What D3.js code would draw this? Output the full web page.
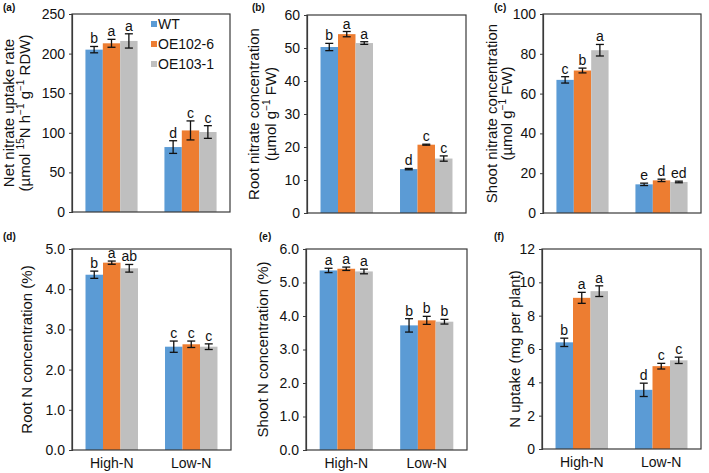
<!DOCTYPE html>
<html><head><meta charset="utf-8">
<script src="https://cdn.jsdelivr.net/npm/d3@7/dist/d3.min.js"></script>
<style>body{margin:0;background:#fff}svg{display:block}text{font-family:Arial,"Liberation Sans",sans-serif}</style>
</head><body><svg id="c" width="709" height="473"></svg>
<script>
// ---- data ----
const groups = ["High-N", "Low-N"];
const series = ["WT", "OE102-6", "OE103-1"];
const colors = ["#5B9BD5", "#ED7D31", "#BFBFBF"];

const aValues = [[205, 213, 216], [82, 103, 101]];
const aErrors = [[4, 5, 9], [8, 12, 8]];
const aLetters = [["b", "a", "a"], ["d", "c", "c"]];
const aTicks = [0, 50, 100, 150, 200, 250];

const bValues = [[50.3, 54.2, 51.5], [13.3, 20.7, 16.5]];
const bErrors = [[1.1, 0.8, 0.4], [0.2, 0.15, 0.8]];
const bLetters = [["b", "a", "a"], ["d", "c", "c"]];
const bTicks = [0, 10, 20, 30, 40, 50, 60];

const cValues = [[66.9, 71.6, 81.8], [14.4, 16.4, 15.6]];
const cErrors = [[1.6, 1.2, 2.9], [0.6, 0.6, 0.4]];
const cLetters = [["c", "b", "a"], ["e", "d", "ed"]];
const cTicks = [0, 20, 40, 60, 80, 100];

const dValues = [[4.36, 4.66, 4.52], [2.57, 2.63, 2.57]];
const dErrors = [[0.09, 0.04, 0.095], [0.14, 0.08, 0.07]];
const dLetters = [["b", "a", "ab"], ["c", "c", "c"]];
const dTicks = [0, 1, 2, 3, 4, 5];

const eValues = [[5.36, 5.41, 5.33], [3.72, 3.87, 3.83]];
const eErrors = [[0.065, 0.05, 0.07], [0.2, 0.12, 0.07]];
const eLetters = [["a", "a", "a"], ["b", "b", "b"]];
const eTicks = [0, 1, 2, 3, 4, 5, 6];

const fValues = [[6.4, 9.07, 9.47], [3.55, 4.97, 5.32]];
const fErrors = [[0.25, 0.33, 0.32], [0.4, 0.17, 0.19]];
const fLetters = [["b", "a", "a"], ["d", "c", "c"]];
const fTicks = [0, 2, 4, 6, 8, 10, 12];

// ---- drawing ----
const svg = d3.select("#c");
const FRAME = "#3a3a3a";

function panel(cfg) {
  const {label, box, values, errors, letters, ticks, fmt, title, xLabels, legend} = cfg;
  const g = svg.append("g");
  const y = d3.scaleLinear().domain([ticks[0], ticks[ticks.length - 1]]).range([box.b, box.t]);
  const x0 = d3.scaleBand().domain(groups).range([box.l, box.r]).paddingInner(0.34).paddingOuter(0.17);
  const x1 = d3.scaleBand().domain(series).range([0, x0.bandwidth()]);

  // bars
  groups.forEach((grp, gi) => {
    series.forEach((s, si) => {
      const v = values[gi][si], e = errors[gi][si];
      const bx = x0(grp) + x1(s);
      g.append("rect").attr("x", bx).attr("y", y(v)).attr("width", x1.bandwidth()).attr("height", y(0) - y(v)).attr("fill", colors[si]);
      const cx = bx + x1.bandwidth() / 2;
      const ey0 = y(v - e), ey1 = y(v + e);
      g.append("line").attr("x1", cx).attr("x2", cx).attr("y1", ey0).attr("y2", ey1).attr("stroke", "#111").attr("stroke-width", 1.3);
      [ey0, ey1].forEach(yy => g.append("line").attr("x1", cx - 4).attr("x2", cx + 4).attr("y1", yy).attr("y2", yy).attr("stroke", "#111").attr("stroke-width", 1.3));
      g.append("text").attr("x", cx).attr("y", ey1 - 3).attr("text-anchor", "middle").attr("font-size", 14).attr("fill", "#111").text(letters[gi][si]);
    });
  });

  // frame
  g.append("rect").attr("x", box.l).attr("y", box.t).attr("width", box.r - box.l).attr("height", box.b - box.t).attr("fill", "none").attr("stroke", FRAME).attr("stroke-width", 1.2);

  // y axis
  const ax = g.append("g").attr("transform", `translate(${box.l},0)`).call(d3.axisLeft(y).tickValues(ticks).tickSize(3).tickPadding(4).tickFormat(fmt));
  ax.select(".domain").attr("stroke", FRAME).attr("stroke-width", 1.2);
  ax.selectAll(".tick line").attr("stroke", FRAME);
  ax.selectAll(".tick text").attr("font-size", 14).attr("fill", "#111").attr("font-family", "Arial, 'Liberation Sans', sans-serif");

  // x labels
  if (xLabels) {
    groups.forEach(grp => g.append("text").attr("x", x0(grp) + x0.bandwidth() / 2).attr("y", box.b + 18).attr("text-anchor", "middle").attr("font-size", 14).attr("fill", "#111").text(grp));
  }

  // panel label
  g.append("text").attr("x", label.x).attr("y", label.y).attr("font-size", 10).attr("font-weight", "bold").attr("fill", "#111").text(label.t);

  // y title
  const cy = (box.t + box.b) / 2;
  title.lines.forEach((ln, i) => {
    const t = g.append("text").attr("transform", `translate(${box.l - title.offs[i]},${cy}) rotate(-90)`).attr("text-anchor", "middle").attr("font-size", 15).attr("fill", "#111");
    ln.forEach(part => {
      if (part.sup) t.append("tspan").attr("font-size", 10).attr("dy", -6).text(part.s);
      else if (part.after) t.append("tspan").attr("dy", 6).text(part.s);
      else t.append("tspan").text(part.s);
    });
  });

  if (legend) {
    series.forEach((s, si) => {
      const ly = legend.y + si * 20;
      g.append("rect").attr("x", legend.x).attr("y", ly - 3).attr("width", 6).attr("height", 6).attr("fill", colors[si]);
      g.append("text").attr("x", legend.x + 7).attr("y", ly + 5).attr("font-size", 14).attr("fill", "#111").text(s);
    });
  }
}

const f0 = d3.format("d"), f1 = d3.format(".1f");

panel({label: {t: "(a)", x: 3, y: 11}, box: {l: 72, t: 14, r: 230, b: 212}, values: aValues, errors: aErrors, letters: aLetters, ticks: aTicks, fmt: f0,
  title: {offs: [58, 42], lines: [[{s: "Net nitrate uptake rate"}],
    [{s: "(µmol "}, {s: "15", sup: 1}, {s: "N h", after: 1}, {s: "−1", sup: 1}, {s: " g", after: 1}, {s: "−1", sup: 1}, {s: " RDW)", after: 1}]]},
  legend: {x: 151, y: 24}});
panel({label: {t: "(b)", x: 252, y: 11}, box: {l: 307, t: 15, r: 466, b: 213}, values: bValues, errors: bErrors, letters: bLetters, ticks: bTicks, fmt: f0,
  title: {offs: [48, 31], lines: [[{s: "Root nitrate concentration"}], [{s: "(µmol g"}, {s: "−1", sup: 1}, {s: " FW)", after: 1}]]}});
panel({label: {t: "(c)", x: 494, y: 11}, box: {l: 543, t: 14, r: 701, b: 213}, values: cValues, errors: cErrors, letters: cLetters, ticks: cTicks, fmt: f0,
  title: {offs: [46, 31], lines: [[{s: "Shoot nitrate concentration"}], [{s: "(µmol g"}, {s: "−1", sup: 1}, {s: " FW)", after: 1}]]}});
panel({label: {t: "(d)", x: 3, y: 240}, box: {l: 72, t: 249, r: 231, b: 450}, values: dValues, errors: dErrors, letters: dLetters, ticks: dTicks, fmt: f1,
  title: {offs: [40], lines: [[{s: "Root N concentration (%)"}]]}, xLabels: true});
panel({label: {t: "(e)", x: 259, y: 240}, box: {l: 306, t: 249, r: 467, b: 450}, values: eValues, errors: eErrors, letters: eLetters, ticks: eTicks, fmt: f1,
  title: {offs: [38], lines: [[{s: "Shoot N concentration (%)"}]]}, xLabels: true});
panel({label: {t: "(f)", x: 494, y: 240}, box: {l: 542, t: 249, r: 701, b: 449}, values: fValues, errors: fErrors, letters: fLetters, ticks: fTicks, fmt: f0,
  title: {offs: [22], lines: [[{s: "N uptake (mg per plant)"}]]}, xLabels: true});
</script></body></html>
